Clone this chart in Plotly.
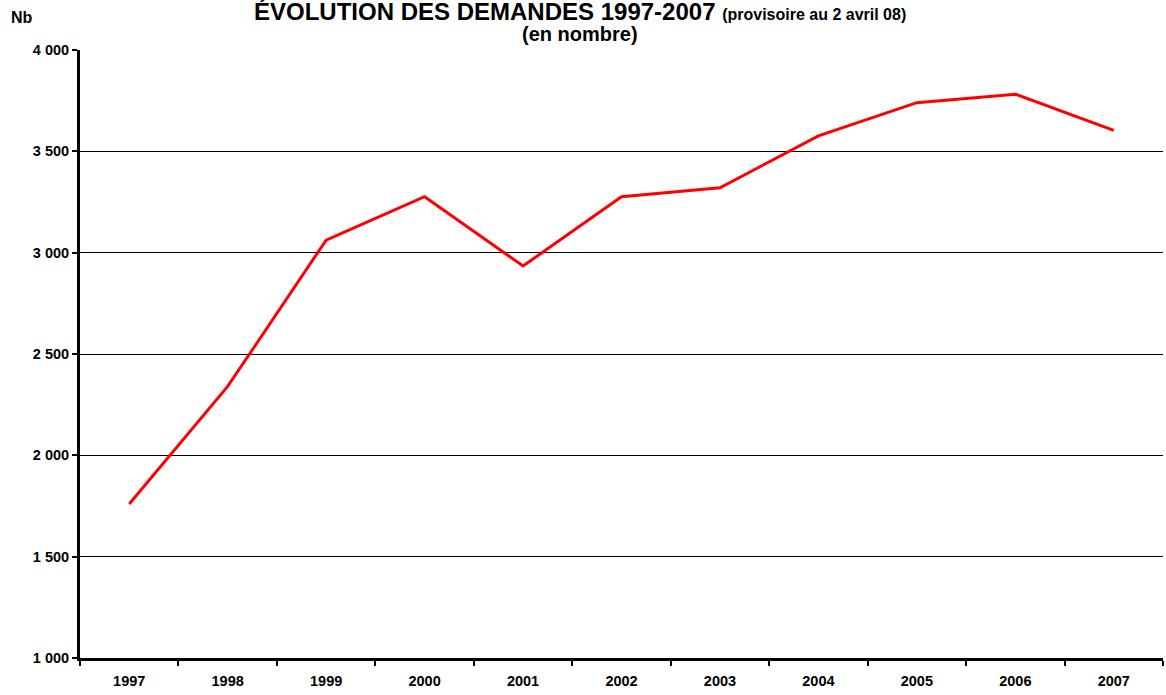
import plotly.graph_objects as go

years = ['1997', '1998', '1999', '2000', '2001', '2002', '2003', '2004', '2005', '2006', '2007']
demandes = [1760, 2340, 3062, 3276, 2934, 3276, 3320, 3576, 3740, 3782, 3603]
y_ticks = [1000, 1500, 2000, 2500, 3000, 3500, 4000]

FONT = 'Arial, Liberation Sans, sans-serif'

fig = go.Figure()

# Red series line
fig.add_trace(go.Scatter(
    x=years,
    y=demandes,
    mode='lines',
    line=dict(color='#ff0000', width=3),
    showlegend=False,
))

# Title lines and axis unit
fig.add_annotation(
    text="<b>ÉVOLUTION DES DEMANDES 1997-2007 <span style='font-size:16px'>(provisoire au 2 avril 08)</span></b>",
    xref='paper', yref='paper', x=0.4615, y=1.063,
    xanchor='center', yanchor='middle', showarrow=False,
    font=dict(size=24, color='black', family=FONT),
)
fig.add_annotation(
    text='<b>(en nombre)</b>',
    xref='paper', yref='paper', x=0.4615, y=1.026,
    xanchor='center', yanchor='middle', showarrow=False,
    font=dict(size=20, color='black', family=FONT),
)
fig.add_annotation(
    text='<b>Nb</b>',
    xref='paper', yref='paper', x=-0.0535, y=1.054,
    xanchor='center', yanchor='middle', showarrow=False,
    font=dict(size=16, color='black', family=FONT),
)

fig.update_layout(
    width=1166,
    height=695,
    margin=dict(l=80, r=3, t=50, b=37),
    plot_bgcolor='white',
    paper_bgcolor='white',
    separators=', ',
    font=dict(family=FONT, color='black'),
    xaxis=dict(
        type='category',
        range=[-0.5, 10.5],
        showline=True,
        linecolor='black',
        linewidth=3,
        showgrid=False,
        ticks='outside',
        tickson='boundaries',
        ticklen=5,
        tickwidth=2,
        tickcolor='black',
        ticklabelstandoff=8,
        tickfont=dict(size=14.5, color='black', family=FONT, weight='bold'),
    ),
    yaxis=dict(
        range=[1000, 4000],
        tickvals=y_ticks,
        tickformat=',d',
        showline=True,
        linecolor='black',
        linewidth=3,
        showgrid=True,
        gridcolor='black',
        gridwidth=1,
        zeroline=False,
        ticks='outside',
        ticklen=5,
        tickwidth=2,
        tickcolor='black',
        tickfont=dict(size=14.5, color='black', family=FONT, weight='bold'),
    ),
)

fig.write_html('out.html', config={'displayModeBar': False},
               post_script="document.body.style.margin='0';")
